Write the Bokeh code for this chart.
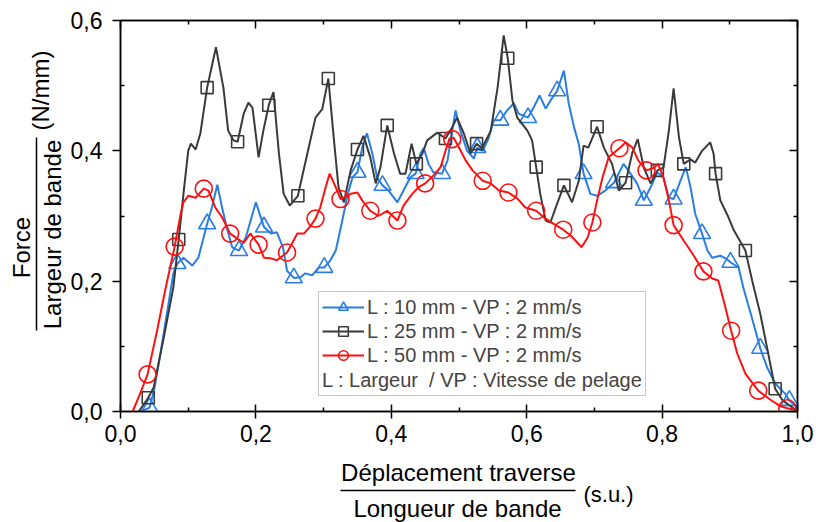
import math
from bokeh.plotting import figure
from bokeh.models import (FixedTicker, CustomJSTickFormatter, LinearAxis,
                          Legend, LegendItem, Range1d)
from bokeh.core.properties import value
from bokeh.layouts import row, column
from bokeh.embed import file_html
from bokeh.resources import INLINE

# ---------------- data ----------------
blue_x = [0.030, 0.043, 0.050, 0.059, 0.071, 0.078, 0.084, 0.093, 0.106, 0.115,
          0.128, 0.135, 0.143, 0.150, 0.158, 0.165, 0.175, 0.185, 0.200, 0.212,
          0.222, 0.231, 0.240, 0.246, 0.256, 0.266, 0.273, 0.283, 0.293, 0.301,
          0.310, 0.318, 0.327, 0.336, 0.343, 0.350, 0.357, 0.364, 0.372, 0.379,
          0.387, 0.396, 0.409, 0.418, 0.428, 0.436, 0.443, 0.448, 0.455, 0.462,
          0.475, 0.483, 0.490, 0.495, 0.502, 0.512, 0.522, 0.527, 0.535, 0.544,
          0.551, 0.561, 0.571, 0.581, 0.588, 0.602, 0.610, 0.619, 0.628, 0.635,
          0.645, 0.655, 0.662, 0.670, 0.677, 0.684, 0.694, 0.704, 0.716, 0.729,
          0.743, 0.750, 0.763, 0.773, 0.783, 0.793, 0.802, 0.810, 0.817, 0.827,
          0.835, 0.842, 0.849, 0.859, 0.867, 0.874, 0.886, 0.894, 0.901, 0.913,
          0.920, 0.931, 0.945, 0.955, 0.967, 0.982, 0.988, 1.000]
blue_y = [0.000, 0.006, 0.035, 0.089, 0.166, 0.212, 0.227, 0.236, 0.224, 0.236,
          0.288, 0.313, 0.348, 0.313, 0.278, 0.252, 0.247, 0.267, 0.321, 0.283,
          0.273, 0.275, 0.252, 0.216, 0.205, 0.206, 0.212, 0.209, 0.221, 0.221,
          0.232, 0.247, 0.290, 0.335, 0.360, 0.367, 0.405, 0.427, 0.396, 0.359,
          0.347, 0.339, 0.321, 0.339, 0.359, 0.365, 0.396, 0.404, 0.380, 0.367,
          0.365, 0.385, 0.431, 0.462, 0.431, 0.400, 0.388, 0.405, 0.400, 0.420,
          0.447, 0.447, 0.462, 0.473, 0.457, 0.451, 0.466, 0.485, 0.465, 0.477,
          0.492, 0.523, 0.473, 0.436, 0.410, 0.365, 0.334, 0.331, 0.339, 0.351,
          0.380, 0.370, 0.350, 0.324, 0.344, 0.367, 0.359, 0.328, 0.326, 0.354,
          0.375, 0.344, 0.303, 0.273, 0.247, 0.236, 0.239, 0.235, 0.229, 0.221,
          0.190, 0.150, 0.097, 0.068, 0.043, 0.027, 0.017, 0.006]
blue_mx = [0.043, 0.084, 0.128, 0.175, 0.212, 0.256, 0.301, 0.350, 0.387, 0.436,
           0.475, 0.527, 0.561, 0.602, 0.645, 0.684, 0.729, 0.773, 0.817, 0.859,
           0.901, 0.945, 0.988]
blue_my = [0.006, 0.227, 0.288, 0.247, 0.283, 0.205, 0.221, 0.367, 0.347, 0.365,
           0.365, 0.405, 0.447, 0.451, 0.492, 0.365, 0.351, 0.324, 0.326, 0.273,
           0.229, 0.097, 0.017]

black_x = [0.027, 0.041, 0.049, 0.064, 0.078, 0.086, 0.093, 0.100, 0.104, 0.111,
           0.118, 0.128, 0.141, 0.152, 0.159, 0.167, 0.173, 0.182, 0.189, 0.195,
           0.204, 0.211, 0.219, 0.226, 0.234, 0.241, 0.250, 0.262, 0.276, 0.288,
           0.298, 0.307, 0.315, 0.322, 0.330, 0.340, 0.350, 0.359, 0.369, 0.377,
           0.384, 0.394, 0.404, 0.413, 0.421, 0.430, 0.437, 0.446, 0.453, 0.468,
           0.480, 0.490, 0.497, 0.507, 0.517, 0.526, 0.534, 0.547, 0.557, 0.566,
           0.572, 0.579, 0.586, 0.601, 0.608, 0.614, 0.620, 0.628, 0.635, 0.645,
           0.655, 0.667, 0.677, 0.684, 0.691, 0.704, 0.714, 0.726, 0.736, 0.746,
           0.756, 0.764, 0.773, 0.783, 0.793, 0.802, 0.810, 0.817, 0.825, 0.832,
           0.842, 0.849, 0.859, 0.871, 0.876, 0.879, 0.886, 0.898, 0.906, 0.923,
           0.933, 0.945, 0.955, 0.967, 0.978, 0.994, 1.000]
black_y = [0.000, 0.021, 0.037, 0.114, 0.190, 0.264, 0.334, 0.400, 0.411, 0.402,
           0.427, 0.497, 0.559, 0.497, 0.431, 0.416, 0.414, 0.457, 0.474, 0.466,
           0.390, 0.431, 0.470, 0.490, 0.396, 0.334, 0.316, 0.331, 0.396, 0.451,
           0.464, 0.511, 0.420, 0.344, 0.321, 0.370, 0.402, 0.423, 0.390, 0.350,
           0.375, 0.439, 0.396, 0.365, 0.365, 0.411, 0.380, 0.396, 0.416, 0.428,
           0.419, 0.436, 0.451, 0.427, 0.396, 0.411, 0.404, 0.431, 0.497, 0.577,
           0.542, 0.477, 0.451, 0.431, 0.416, 0.375, 0.334, 0.293, 0.290, 0.319,
           0.347, 0.321, 0.354, 0.408, 0.405, 0.437, 0.405, 0.380, 0.339, 0.351,
           0.397, 0.418, 0.374, 0.350, 0.370, 0.374, 0.431, 0.496, 0.420, 0.380,
           0.387, 0.382, 0.400, 0.413, 0.396, 0.365, 0.324, 0.298, 0.278, 0.247,
           0.201, 0.150, 0.098, 0.035, 0.017, 0.005, 0.000]
black_mx = [0.041, 0.086, 0.128, 0.173, 0.219, 0.262, 0.307, 0.350, 0.394, 0.437,
            0.480, 0.526, 0.572, 0.614, 0.655, 0.704, 0.746, 0.793, 0.832, 0.879,
            0.923, 0.967]
black_my = [0.021, 0.264, 0.497, 0.414, 0.470, 0.331, 0.511, 0.402, 0.439, 0.380,
            0.419, 0.411, 0.542, 0.375, 0.347, 0.437, 0.351, 0.370, 0.380, 0.365,
            0.247, 0.035]

red_x = [0.018, 0.030, 0.040, 0.054, 0.066, 0.080, 0.089, 0.093, 0.100, 0.111,
         0.123, 0.130, 0.140, 0.150, 0.162, 0.173, 0.182, 0.192, 0.204, 0.212,
         0.222, 0.231, 0.246, 0.254, 0.261, 0.271, 0.281, 0.288, 0.295, 0.303,
         0.309, 0.318, 0.325, 0.340, 0.350, 0.357, 0.369, 0.381, 0.394, 0.409,
         0.418, 0.431, 0.440, 0.450, 0.462, 0.473, 0.480, 0.486, 0.492, 0.500,
         0.510, 0.520, 0.535, 0.547, 0.559, 0.573, 0.586, 0.598, 0.614, 0.625,
         0.638, 0.654, 0.665, 0.675, 0.681, 0.690, 0.697, 0.704, 0.712, 0.721,
         0.737, 0.746, 0.756, 0.765, 0.777, 0.788, 0.794, 0.802, 0.810, 0.817,
         0.832, 0.845, 0.861, 0.874, 0.883, 0.891, 0.902, 0.911, 0.923, 0.942,
         0.960, 0.975, 0.985, 1.000]
red_y = [0.000, 0.030, 0.057, 0.124, 0.186, 0.253, 0.304, 0.321, 0.331, 0.328,
         0.342, 0.339, 0.313, 0.298, 0.273, 0.265, 0.259, 0.273, 0.256, 0.236,
         0.235, 0.232, 0.244, 0.259, 0.273, 0.273, 0.285, 0.296, 0.313, 0.344,
         0.365, 0.344, 0.326, 0.334, 0.336, 0.324, 0.308, 0.300, 0.308, 0.293,
         0.316, 0.334, 0.344, 0.350, 0.362, 0.375, 0.400, 0.419, 0.420, 0.405,
         0.385, 0.370, 0.354, 0.350, 0.339, 0.336, 0.327, 0.313, 0.308, 0.298,
         0.289, 0.279, 0.270, 0.259, 0.252, 0.267, 0.290, 0.324, 0.359, 0.390,
         0.404, 0.413, 0.405, 0.385, 0.370, 0.374, 0.380, 0.359, 0.324, 0.286,
         0.262, 0.242, 0.215, 0.204, 0.201, 0.170, 0.124, 0.089, 0.058, 0.032,
         0.018, 0.008, 0.005, 0.002]
red_mx = [0.040, 0.080, 0.123, 0.162, 0.204, 0.246, 0.288, 0.325, 0.369, 0.409,
          0.450, 0.490, 0.535, 0.573, 0.614, 0.654, 0.697, 0.737, 0.777, 0.817,
          0.861, 0.902, 0.942, 0.985]
red_my = [0.057, 0.253, 0.342, 0.273, 0.256, 0.244, 0.296, 0.326, 0.308, 0.293,
          0.350, 0.418, 0.354, 0.336, 0.308, 0.279, 0.290, 0.404, 0.370, 0.286,
          0.215, 0.124, 0.032, 0.005]

labels = ["L : 10 mm - VP : 2 mm/s", "L : 25 mm - VP : 2 mm/s", "L : 50 mm - VP : 2 mm/s"]
legend_note = "L : Largeur  / VP : Vitesse de pelage"
x_ticks = [0.0, 0.2, 0.4, 0.6, 0.8, 1.0]
x_minor = [0.1, 0.3, 0.5, 0.7, 0.9]
y_ticks = [0.0, 0.2, 0.4, 0.6]
y_minor = [0.1, 0.3, 0.5]

BLUE = "#2a7de1"
BLACK = "#3a3a3a"
RED = "#ff1010"
FONT = "Liberation Sans"

YLAB_W = 66
MAIN_W = 816 - YLAB_W
MAIN_H = 456
XLAB_H = 522 - MAIN_H
FRAME_TOP = 20
FRAME_BOTTOM = 411

# ---------------- main figure ----------------
p = figure(width=MAIN_W, height=MAIN_H, x_range=(0, 1.0), y_range=(0, 0.6),
           output_backend="svg", toolbar_location=None,
           min_border_left=120 - YLAB_W, min_border_right=19, min_border_top=FRAME_TOP,
           min_border_bottom=MAIN_H - FRAME_BOTTOM)
p.xgrid.visible = False
p.ygrid.visible = False
p.outline_line_color = "black"
p.outline_line_width = 1.5

fmt = CustomJSTickFormatter(code="return tick.toFixed(1).replace('.', ',');")
blank = CustomJSTickFormatter(code="return '';")

xb = p.xaxis[0]
xb.ticker = FixedTicker(ticks=x_ticks, minor_ticks=x_minor)
xb.formatter = fmt
xb.major_tick_in = 7
xb.major_tick_out = 7
xb.minor_tick_in = 4
xb.minor_tick_out = 0
xb.major_label_standoff = 6

yl = p.yaxis[0]
yl.ticker = FixedTicker(ticks=y_ticks, minor_ticks=y_minor)
yl.formatter = fmt
yl.major_tick_in = 0
yl.major_tick_out = 8
yl.minor_tick_in = 4
yl.minor_tick_out = 0
yl.major_label_standoff = 10

xt = LinearAxis(ticker=FixedTicker(ticks=x_ticks, minor_ticks=x_minor), formatter=blank,
                major_tick_in=8, major_tick_out=0, minor_tick_in=4, minor_tick_out=0,
                major_label_text_font_size="1px", major_label_standoff=0)
yr = LinearAxis(ticker=FixedTicker(ticks=y_ticks, minor_ticks=y_minor), formatter=blank,
                major_tick_in=8, major_tick_out=0, minor_tick_in=4, minor_tick_out=0,
                major_label_text_font_size="1px", major_label_standoff=0)
p.add_layout(xt, "above")
p.add_layout(yr, "right")

for ax in (xb, yl, xt, yr):
    ax.axis_line_color = "black"
    ax.axis_line_width = 1.5
    ax.major_tick_line_color = "black"
    ax.major_tick_line_width = 1.5
    ax.minor_tick_line_color = "black"
    ax.minor_tick_line_width = 1.5
    ax.major_label_text_font = FONT
    ax.major_label_text_color = "black"
for ax in (xb, yl):
    ax.major_label_text_font_size = "23px"

# ---------------- series ----------------
r_bl = p.line(blue_x, blue_y, line_color=BLUE, line_width=2)
r_bm = p.scatter(blue_mx, blue_my, marker="triangle", size=17, line_color=BLUE,
                 line_width=1.6, fill_alpha=0)
r_kl = p.line(black_x, black_y, line_color=BLACK, line_width=2)
r_km = p.scatter(black_mx, black_my, marker="square", size=12, line_color=BLACK,
                 line_width=1.6, fill_alpha=0)
r_rl = p.line(red_x, red_y, line_color=RED, line_width=2)
r_rm = p.scatter(red_mx, red_my, marker="circle", size=17, line_color=RED,
                 line_width=1.6, fill_alpha=0)

legend = Legend(items=[LegendItem(label=labels[0], renderers=[r_bl, r_bm]),
                       LegendItem(label=labels[1], renderers=[r_kl, r_km]),
                       LegendItem(label=labels[2], renderers=[r_rl, r_rm])],
                location=(198, 15), title=legend_note, title_location="below",
                title_text_font=FONT, title_text_font_size="20px",
                title_text_font_style="normal", title_standoff=2,
                label_text_font=FONT, label_text_font_size="20px",
                glyph_width=42, glyph_height=24, label_height=24, label_standoff=3,
                spacing=0, padding=3, margin=0,
                border_line_color="#8c8c8c", border_line_width=1,
                background_fill_color="white", background_fill_alpha=1)
p.add_layout(legend)


# ---------------- axis titles (fractions) in side panels ----------------
def panel(w, h, xr, yr_):
    f = figure(width=w, height=h, x_range=xr, y_range=yr_,
               output_backend="svg", toolbar_location=None,
               x_axis_location=None, y_axis_location=None, min_border=0)
    f.xgrid.visible = False
    f.ygrid.visible = False
    f.outline_line_color = None
    return f


def txt(f, s, x, y, size, angle=0.0):
    f.text(x=[x], y=[y], text=[s], angle=angle, text_font=value(FONT),
           text_font_size=value(size), text_color="black",
           text_align="center", text_baseline="middle")


# left panel: its frame is aligned with the main frame (page y 20..411),
# so the y range is given in page pixels, flipped.
yp = panel(YLAB_W, MAIN_H, Range1d(0, YLAB_W), Range1d(FRAME_BOTTOM, FRAME_TOP))
txt(yp, "Force", 21, 247, "24px", math.pi / 2)
txt(yp, "Largeur de bande", 52, 234, "24px", math.pi / 2)
txt(yp, "(N/mm)", 40, 90, "24px", math.pi / 2)
yp.segment(x0=[36], y0=[330], x1=[36], y1=[137], line_color="black", line_width=1.5)

# bottom panel (page y 456..522), page pixel coordinates
xp = panel(816, XLAB_H, Range1d(0, 816), Range1d(522, MAIN_H))
txt(xp, "Déplacement traverse", 458, 472, "24px")
txt(xp, "Longueur de bande", 457, 508, "24px")
txt(xp, "(s.u.)", 608, 494, "22px")
xp.segment(x0=[340], y0=[490], x1=[575], y1=[490], line_color="black", line_width=1.5)

layout = column(row(yp, p, spacing=0), xp, spacing=0)
open("out.html", "w").write(file_html(layout, INLINE))
